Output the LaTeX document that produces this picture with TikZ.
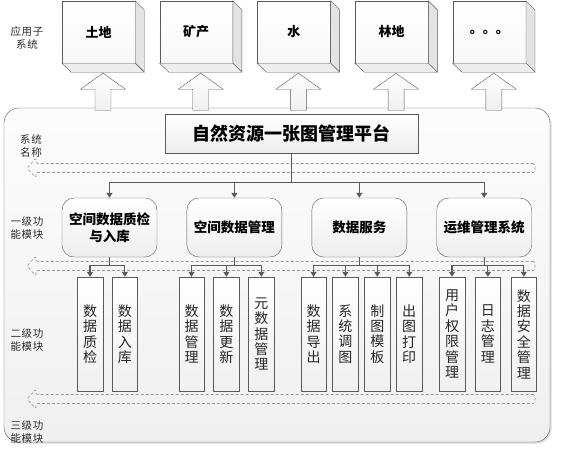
\documentclass[tikz,border=0pt]{standalone}
\usepackage{fontspec}
\setmainfont{Noto Sans CJK SC}
\usepackage{tikz}
\usetikzlibrary{positioning,calc,arrows.meta,shadows}

\definecolor{edge}{HTML}{5A5A5A}
\definecolor{lbl}{HTML}{2A2A2A}

% dashed hollow band pointing left, #1 = centre line
\newcommand{\flowband}[1]{%
  \draw[band] (535,#1-4.5) -- (36,#1-4.5) -- (36,#1-10) -- (27,#1)
    -- (36,#1+10) -- (36,#1+4.5) -- (535,#1+4.5) -- cycle;}

\begin{document}
\begin{tikzpicture}[
      x=1pt, y=-1pt,
      cube/.style={draw=edge, top color=white, bottom color=gray!6, minimum width=73pt,
                   minimum height=62pt, inner sep=0pt, font=\fontsize{13}{15}\selectfont\bfseries},
      frame/.style={draw=edge, rounded corners=15pt, top color=gray!2, bottom color=gray!12,
                    minimum width=546pt, minimum height=334pt,
                    drop shadow={shadow xshift=1.5pt, shadow yshift=-1.5pt, opacity=0.3}},
      titlebox/.style={draw=edge, top color=white, bottom color=gray!14, minimum width=253pt,
                       minimum height=39pt, font=\fontsize{18}{20}\selectfont\bfseries},
      lvone/.style={draw=edge, rounded corners=12pt, top color=white, bottom color=gray!14,
                    minimum width=95pt, minimum height=59pt, inner sep=0pt, align=center,
                    font=\fontsize{13.5}{17}\selectfont\bfseries},
      lvtwo/.style={draw=edge, top color=white, bottom color=gray!12, minimum width=25.5pt,
                    minimum height=114pt, inner sep=0pt, align=center, text=black!85,
                    font=\fontsize{14}{15.4}\selectfont},
      sidelabel/.style={align=center, inner sep=0pt, text=lbl,
                        font=\fontsize{10.5}{13.5}\selectfont\addfontfeatures{LetterSpace=6}},
      blockarr/.style={draw=edge, top color=white, bottom color=gray!12},
      band/.style={draw=gray!80, line width=0.6pt, dash pattern=on 3pt off 2pt, rounded corners=1.5pt},
      arr/.style={-{Triangle[width=6pt,length=5pt]}, draw=edge, line width=1.1pt}
    ]
    \useasboundingbox (0,0) rectangle (585,469);

    % sub-systems on top
    \node[cube] (land)  at (98.5,32) {土地};
    \node[cube] (mine)  [right=24.3pt of land] {矿产};
    \node[cube] (water) [right=24.3pt of mine] {水};
    \node[cube] (wood)  [right=24.3pt of water] {林地};
    \node[cube] (more)  [right=24.3pt of wood] {。。。};
    \foreach \n in {land,mine,water,wood,more} {
      \filldraw[draw=edge, fill=gray!22] (\n.north east) -- ++(9,9) -- ++(0,62) -- (\n.south east) -- cycle;
      \filldraw[draw=edge, fill=gray!14] (\n.south west) -- (\n.south east) -- ++(9,9) -- ++(-73,0) -- cycle;
    }

    % platform frame
    \node[frame] (platform) at (277,275) {};

    \foreach \n in {land,mine,water,wood,more}
      \draw[blockarr] ($(\n.south)+(4.5,10)$) -- ++(22.5,16) -- ++(-14.5,0) -- ++(0,21)
        -- ++(-16,0) -- ++(0,-21) -- ++(-14.5,0) -- cycle;

    \node[sidelabel] (lab0) at (27,38)  {应用子\\系统};
    \node[sidelabel] (lab1) at (31,146) {系统\\名称};
    \node[sidelabel] (lab2) at (27,228) {一级功\\能模块};
    \node[sidelabel] (lab3) at (27,340) {二级功\\能模块};
    \node[sidelabel] (lab4) at (27,432) {三级功\\能模块};

    \flowband{168}
    \flowband{266}
    \flowband{399}

    \node[titlebox] (sys) at (291.5,133.5) {自然资源一张图管理平台};

    % first level
    \node[lvone] (m1) at (109.5,227.5) {空间数据质检\\与入库};
    \node[lvone] (m2) [right=29.5pt of m1] {空间数据管理};
    \node[lvone] (m3) [right=29.5pt of m2] {数据服务};
    \node[lvone] (m4) [right=29.5pt of m3] {运维管理系统};

    % second level
    \node[lvtwo] (d11) at (90,334) {数\\据\\质\\检};
    \node[lvtwo] (d12) [right=9pt of d11] {数\\据\\入\\库};
    \node[lvtwo] (d21) at (191.5,334) {数\\据\\管\\理};
    \node[lvtwo] (d22) [right=9pt of d21] {数\\据\\更\\新};
    \node[lvtwo] (d23) [right=9pt of d22] {元\\数\\据\\管\\理};
    \node[lvtwo] (d31) at (313.5,334) {数\\据\\导\\出};
    \node[lvtwo] (d32) [right=6pt of d31] {系\\统\\调\\图};
    \node[lvtwo] (d33) [right=6pt of d32] {制\\图\\模\\板};
    \node[lvtwo] (d34) [right=6pt of d33] {出\\图\\打\\印};
    \node[lvtwo] (d41) at (452,334) {用\\户\\权\\限\\管\\理};
    \node[lvtwo] (d42) [right=10pt of d41] {日\\志\\管\\理};
    \node[lvtwo] (d43) [right=10pt of d42] {数\\据\\安\\全\\管\\理};

    \foreach \m in {m1,m2,m3,m4}
      \draw[arr] (sys.south) -- ++(0,29) -| (\m.north);
    \foreach \a/\b in {m1/d11, m1/d12, m2/d21, m2/d22, m2/d23, m3/d31, m3/d32,
                       m3/d33, m3/d34, m4/d41, m4/d42, m4/d43}
      \draw[arr] (\a.south) -- ++(0,8) -| (\b.north);
  \end{tikzpicture}
\end{document}
